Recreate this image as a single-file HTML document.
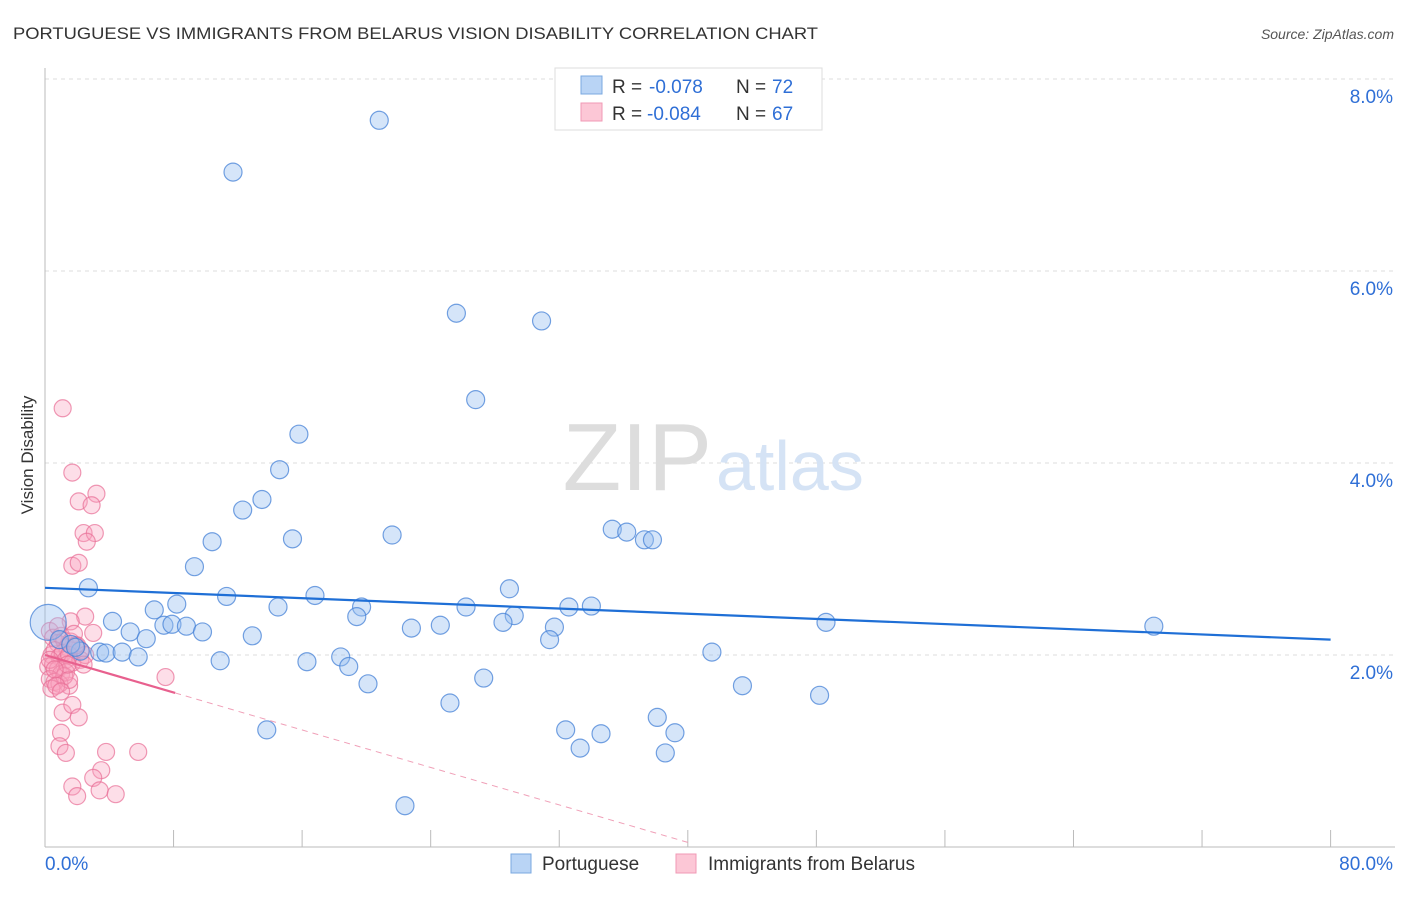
<!DOCTYPE html>
<html><head><meta charset="utf-8"><style>
body{margin:0;background:#fff;font-family:"Liberation Sans",sans-serif;}
svg text{font-family:"Liberation Sans",sans-serif;}
</style></head><body>
<svg id="c" width="1406" height="892">
<text x="13" y="39" font-size="17" fill="#333" textLength="805" lengthAdjust="spacingAndGlyphs">PORTUGUESE VS IMMIGRANTS FROM BELARUS VISION DISABILITY CORRELATION CHART</text>
<text x="1394" y="39" font-size="14" fill="#555" font-style="italic" text-anchor="end">Source: ZipAtlas.com</text>
<text x="33" y="455" font-size="17" fill="#333" text-anchor="middle" transform="rotate(-90 33 455)">Vision Disability</text>
<g id="grid"></g>
<text x="712" y="490" font-size="96" fill="#ddd" text-anchor="end" font-family="Liberation Serif">ZIP</text>
<text x="716" y="490" font-size="70" fill="#d5e3f5">atlas</text>
<g id="marks"></g>
<g>
<rect x="555" y="68" width="267" height="62" fill="#fff" stroke="#ddd"/>
<rect x="581" y="76" width="21" height="18" fill="#b9d4f5" stroke="#7aa8e0"/>
<rect x="581" y="103" width="21" height="18" fill="#fcc7d6" stroke="#f09ab5"/>
<text x="612" y="93" font-size="19" fill="#333">R =</text>
<text x="649" y="93" font-size="19" fill="#2f6fd6">-0.078</text>
<text x="736" y="93" font-size="19" fill="#333">N =</text>
<text x="772" y="93" font-size="19" fill="#2f6fd6">72</text>
<text x="612" y="120" font-size="19" fill="#333">R =</text>
<text x="647" y="120" font-size="19" fill="#2f6fd6">-0.084</text>
<text x="736" y="120" font-size="19" fill="#333">N =</text>
<text x="772" y="120" font-size="19" fill="#2f6fd6">67</text>
</g>
<g>
<rect x="511" y="854" width="20" height="19" fill="#b9d4f5" stroke="#7aa8e0"/>
<text x="542" y="870" font-size="19" fill="#333">Portuguese</text>
<rect x="676" y="854" width="20" height="19" fill="#fcc7d6" stroke="#f09ab5"/>
<text x="708" y="870" font-size="19" fill="#333">Immigrants from Belarus</text>
</g>
</svg>
<script>
const yTicks=[2,4,6,8];
const xTickVals=[0,8,16,24,32,40,48,56,64,72,80];
const blueX=[20.8,11.7,25.6,30.9,26.8,15.8,14.6,13.5,12.3,21.6,35.3,36.2,37.3,37.8,10.4,15.4,9.3,2.7,28.9,11.3,16.8,8.2,6.8,14.5,19.7,26.2,32.6,34.0,29.2,19.4,4.2,7.4,7.9,8.8,5.3,9.8,24.6,22.8,28.5,31.7,48.6,69.0,6.3,12.9,31.4,2.2,3.4,3.8,4.8,5.8,10.9,18.4,41.5,16.3,18.9,27.3,20.1,43.4,48.2,25.2,13.8,32.4,34.6,38.1,39.2,33.3,38.6,22.4,0.2,0.9,1.6,1.9];
const blueY=[7.57,7.03,5.56,5.48,4.66,4.30,3.93,3.62,3.51,3.25,3.31,3.28,3.20,3.20,3.18,3.21,2.92,2.70,2.69,2.61,2.62,2.53,2.47,2.50,2.50,2.50,2.50,2.51,2.41,2.40,2.35,2.31,2.32,2.30,2.24,2.24,2.31,2.28,2.34,2.29,2.34,2.30,2.17,2.20,2.16,2.04,2.03,2.02,2.03,1.98,1.94,1.98,2.03,1.93,1.88,1.76,1.70,1.68,1.58,1.50,1.22,1.22,1.18,1.35,1.19,1.03,0.98,0.43,2.34,2.16,2.11,2.08];
const blueR=[9,9,9,9,9,9,9,9,9,9,9,9,9,9,9,9,9,9,9,9,9,9,9,9,9,9,9,9,9,9,9,9,9,9,9,9,9,9,9,9,9,9,9,9,9,9,9,9,9,9,9,9,9,9,9,9,9,9,9,9,9,9,9,9,9,9,9,9,18,9,9,9];
const pinkX=[1.1,1.7,2.1,3.2,2.9,2.4,3.1,2.6,1.7,2.1,2.5,1.6,3.0,7.5,1.5,1.1,1.7,2.1,1.0,0.9,1.3,3.8,5.8,3.5,3.0,1.7,2.0,3.4,4.4,0.3,0.5,0.8,1.0,1.2,1.4,1.6,1.8,2.0,2.2,0.4,0.6,0.9,1.1,1.3,1.5,1.7,2.2,2.5,0.2,0.5,0.8,1.0,1.3,0.3,0.6,0.9,1.2,1.5,0.4,0.7,1.0,2.4,0.3,0.8,1.9,1.4,0.6];
const pinkY=[4.57,3.90,3.60,3.68,3.56,3.27,3.27,3.18,2.93,2.96,2.40,2.35,2.23,1.77,1.68,1.40,1.48,1.35,1.19,1.05,0.98,0.99,0.99,0.80,0.72,0.63,0.53,0.59,0.55,2.25,2.18,2.12,2.20,2.15,2.08,2.14,2.22,2.10,2.05,2.00,2.05,1.98,2.02,1.95,2.00,1.92,1.95,2.00,1.88,1.90,1.85,1.80,1.82,1.75,1.72,1.70,1.78,1.74,1.65,1.68,1.62,1.90,1.95,2.30,2.10,1.90,1.85];
const xs=v=>45+v*16.07, ys=v=>847-v*96;
const NS='http://www.w3.org/2000/svg';
const grid=document.getElementById('grid'), marks=document.getElementById('marks');
function mk(tag,attrs,parent){const e=document.createElementNS(NS,tag);for(const k in attrs)e.setAttribute(k,attrs[k]);parent.appendChild(e);return e;}
yTicks.forEach(t=>{
 const l=mk('line',{x1:45,x2:1395,y1:ys(t),y2:ys(t),stroke:'#ddd','stroke-dasharray':'4,4'},grid);
 
 
 const tx=mk('text',{x:1393,y:ys(t)+24,'font-size':19,fill:'#2f6fd6','text-anchor':'end'},grid);
 tx.textContent=t.toFixed(1)+'%';
 
 
});
const ax=mk('line',{x1:45,x2:1395,y1:847,y2:847,stroke:'#bbb'},grid);


const ay=mk('line',{x1:45,x2:45,y1:68,y2:847,stroke:'#bbb'},grid);


xTickVals.forEach(t=>{const l=mk('line',{x1:xs(t),x2:xs(t),y1:830,y2:847,stroke:'#bbb'},grid);
 
 });
[[0,'0.0%','start',45],[80,'80.0%','end',1393]].forEach(a=>{const tx=mk('text',{x:a[3],y:870,'font-size':19,fill:'#2f6fd6','text-anchor':a[2]},grid);tx.textContent=a[1];
 
 });
pinkX.forEach((v,i)=>{const c=mk('circle',{cx:xs(v),cy:ys(pinkY[i]),r:8.5,fill:'rgba(248,160,188,0.35)',stroke:'rgba(232,110,150,0.7)','stroke-width':1.2},marks);
 
 });
blueX.forEach((v,i)=>{const c=mk('circle',{cx:xs(v),cy:ys(blueY[i]),r:blueR[i],fill:'rgba(150,190,240,0.4)',stroke:'rgba(70,130,215,0.75)','stroke-width':1.2},marks);
 
 });
const bt=mk('line',{x1:xs(0),y1:ys(2.70),x2:xs(80),y2:ys(2.16),stroke:'#1f6fd6','stroke-width':2.2},marks);


const pf=v=>2.0-0.0488*v;
const pt=mk('line',{x1:xs(0),y1:ys(pf(0)),x2:xs(8.1),y2:ys(pf(8.1)),stroke:'#e8608e','stroke-width':2.2},marks);


const pd=mk('line',{x1:xs(8.1),y1:ys(pf(8.1)),x2:xs(40),y2:ys(pf(40)),stroke:'#f0a0b8','stroke-width':1,'stroke-dasharray':'6,5'},marks);


</script>
</body></html>
